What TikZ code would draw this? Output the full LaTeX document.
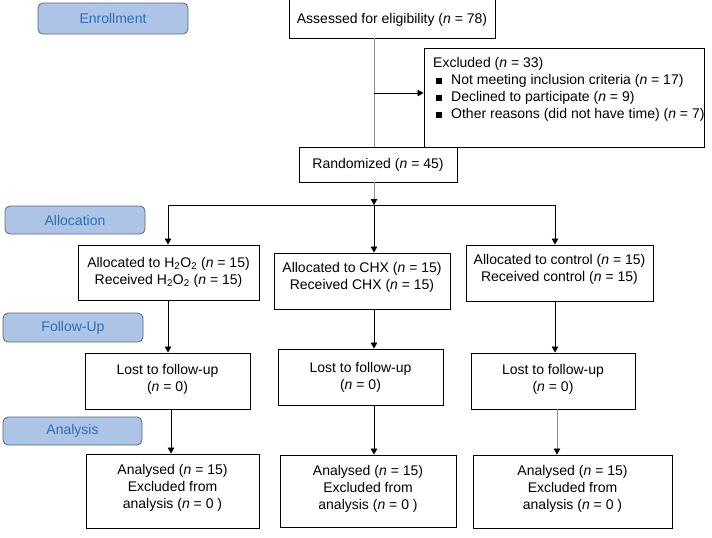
\documentclass[tikz,border=0pt]{standalone}
\usepackage{fontspec}
\setmainfont{Liberation Sans}
\usetikzlibrary{arrows.meta}
\definecolor{lblfill}{HTML}{AEC4E7}
\definecolor{lbldraw}{HTML}{5A6478}
\definecolor{lbltext}{HTML}{2E6DB4}
\definecolor{lngray}{HTML}{8C8C8C}
\newcommand{\txtlift}[1]{\\[#1]\mbox{}}
\newcommand{\sqb}{\hspace*{3pt}\rule[1pt]{6pt}{6pt}\hspace*{9pt}}
\begin{document}
\begin{tikzpicture}[x=1pt,y=-1pt,
  every node/.style={font=\fontsize{14}{17}\selectfont},
  phase/.style={draw=lbldraw, fill=lblfill, text=lbltext, rounded corners=5pt, line width=0.8pt, inner sep=0pt},
  stepbox/.style={draw=black, line width=0.9pt, inner sep=0pt, align=center},
  arr/.style={line width=0.8pt, -{Triangle[length=6pt,width=6.5pt]}},
  garr/.style={line width=0.8pt, draw=lngray, -{Triangle[length=6pt,width=6.5pt,color=black,fill=black]}},
  ln/.style={line width=0.8pt},
  gl/.style={line width=0.8pt, draw=lngray}]
\useasboundingbox (0,0) rectangle (712,538);

% phase labels
\node[phase, minimum width=150pt, minimum height=31pt] (enr) at (113,18.5) {Enrollment};
\node[phase, minimum width=140pt, minimum height=28pt] (alloc) at (75,220) {Allocation};
\node[phase, minimum width=140pt, minimum height=29pt] (fu) at (73,327.5) {Follow-Up};
\node[phase, minimum width=139pt, minimum height=28pt] (ana) at (72.5,431) {Analysis};

% top boxes
\node[stepbox, minimum width=206pt, minimum height=40pt, text height=13.5pt] (assess) at (392,18) {Assessed for eligibility (\textit{n} = 78)};
\node[stepbox, minimum width=280pt, minimum height=99pt] (excl) at (564,97.5) {};
\node[inner sep=0pt, align=left, anchor=north west] (excltext) at (433,57.5)
 {Excluded (\textit{n} = 33)\\
  \sqb Not meeting inclusion criteria (\textit{n} = 17)\\
  \sqb Declined to participate (\textit{n} = 9)\\
  \sqb Other reasons (did not have time) (\textit{n} = 7)};
\node[stepbox, minimum width=158pt, minimum height=35pt] (rand) at (378,164.5) {Randomized (\textit{n} = 45)};

% allocation
\node[stepbox, minimum width=181pt, minimum height=55pt] (a1) at (168.5,272.5)
 {Allocated to H\textsubscript{2}O\textsubscript{2} (\textit{n} = 15)\\Received H\textsubscript{2}O\textsubscript{2} (\textit{n} = 15)};
\node[stepbox, minimum width=176pt, minimum height=56pt] (a2) at (362,281)
 {Allocated to CHX (\textit{n} = 15)\\Received CHX (\textit{n} = 15)\txtlift{-6pt}};
\node[stepbox, minimum width=187pt, minimum height=56pt] (a3) at (559.5,273)
 {Allocated to control (\textit{n} = 15)\\Received control (\textit{n} = 15)\txtlift{-6pt}};

% follow-up
\node[stepbox, minimum width=165pt, minimum height=56pt] (f1) at (167.5,381)
 {Lost to follow-up\\(\textit{n} = 0)\txtlift{-10pt}};
\node[stepbox, minimum width=165pt, minimum height=56pt] (f2) at (360.5,377)
 {Lost to follow-up\\(\textit{n} = 0)};
\node[stepbox, minimum width=164pt, minimum height=56pt] (f3) at (553,381)
 {Lost to follow-up\\(\textit{n} = 0)\txtlift{-10pt}};

% analysis
\node[stepbox, minimum width=173pt, minimum height=74pt] (n1) at (172.5,491)
 {Analysed (\textit{n} = 15)\\Excluded from\\analysis (\textit{n} = 0 )\txtlift{-8.5pt}};
\node[stepbox, minimum width=176pt, minimum height=72pt] (n2) at (368,491)
 {Analysed (\textit{n} = 15)\\Excluded from\\analysis (\textit{n} = 0 )\txtlift{-10pt}};
\node[stepbox, minimum width=199pt, minimum height=73pt] (n3) at (572.5,491.5)
 {Analysed (\textit{n} = 15)\\Excluded from\\analysis (\textit{n} = 0 )\txtlift{-8pt}};

% column coordinates
\coordinate (xm) at (374,0);
\coordinate (xl) at (168,0);
\coordinate (xl2) at (171,0);
\coordinate (xr) at (555,0);
\coordinate (xr2) at (557,0);
\coordinate (eb) at (374,93);
\coordinate (jn) at (374,205);

% connectors
\draw[gl] (assess.south -| xm) -- (rand.north -| xm);
\draw[arr] (eb) -- (excl.west |- eb);
\draw[garr] (rand.south -| xm) -- (jn);
\draw[ln] (jn -| xl) -- (jn -| xr);
\draw[arr] (jn -| xl) -- (a1.north -| xl);
\draw[arr] (jn) -- (a2.north -| xm);
\draw[arr] (jn -| xr) -- (a3.north -| xr);
\draw[arr] (a1.south -| xl) -- (f1.north -| xl);
\draw[arr] (a2.south -| xm) -- (f2.north -| xm);
\draw[arr] (a3.south -| xr) -- (f3.north -| xr);
\draw[arr] (f1.south -| xl2) -- (n1.north -| xl2);
\draw[arr] (f2.south -| xm) -- (n2.north -| xm);
\draw[garr] (f3.south -| xr2) -- (n3.north -| xr2);
\end{tikzpicture}
\end{document}
